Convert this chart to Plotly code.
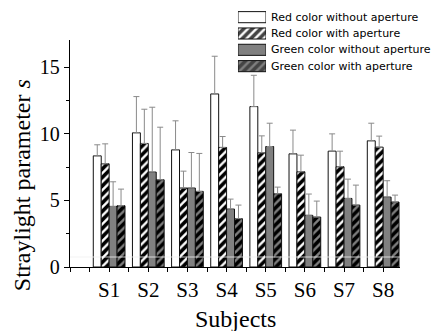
import plotly.graph_objects as go

subjects = ["S1", "S2", "S3", "S4", "S5", "S6", "S7", "S8"]
positions = [1, 2, 3, 4, 5, 6, 7, 8]

# mean straylight parameter s per subject
red_no_ap = [8.35, 10.08, 8.80, 13.00, 12.05, 8.50, 8.70, 9.48]
red_ap = [7.75, 9.28, 5.93, 8.98, 8.58, 7.15, 7.53, 9.00]
green_no_ap = [4.55, 7.13, 5.93, 4.35, 9.05, 3.88, 5.15, 5.25]
green_ap = [4.60, 6.55, 5.68, 3.63, 5.50, 3.75, 4.65, 4.88]

# upper end of the error bar (mean + SD)
red_no_ap_top = [9.18, 12.80, 10.98, 15.83, 14.40, 10.28, 10.00, 10.80]
red_ap_top = [9.25, 11.85, 7.20, 9.80, 9.85, 8.40, 8.70, 9.83]
green_no_ap_top = [6.40, 12.00, 8.60, 5.10, 10.80, 5.48, 6.60, 6.48]
green_ap_top = [5.85, 10.50, 8.53, 4.65, 6.00, 4.95, 6.15, 5.40]

series_names = ["Red color without aperture", "Red color with aperture",
                "Green color without aperture", "Green color with aperture"]
series_fill = ["white", "white", "#808080", "#808080"]
series_hatch = ["", "/", "", "/"]

means = [red_no_ap, red_ap, green_no_ap, green_ap]
tops = [red_no_ap_top, red_ap_top, green_no_ap_top, green_ap_top]

HATCH = dict(fgcolor="black", fgopacity=1, size=6, solidity=0.6)
OUTLINE = dict(color="#111111", width=1)

fig = go.Figure()
for name, vals, top, color, shape in zip(series_names, means, tops, series_fill, series_hatch):
    fig.add_trace(go.Bar(
        name=name, x=positions, y=vals, showlegend=False,
        marker=dict(color=color, line=OUTLINE,
                    pattern=dict(shape=shape, bgcolor=color, **HATCH)),
        error_y=dict(type="data", symmetric=False,
                     array=[t - v for t, v in zip(top, vals)],
                     color="#8a8a8a", thickness=1, width=3),
        xaxis="x", yaxis="y",
    ))

# key: one wide swatch per series on a small helper axis pair, labels beside it
key_rows = list(range(len(series_names)))
fig.add_trace(go.Bar(
    orientation="h", y=key_rows, x=[1] * len(key_rows), width=0.68,
    marker=dict(color=series_fill, line=OUTLINE,
                pattern=dict(shape=series_hatch, bgcolor=series_fill, **HATCH)),
    xaxis="x2", yaxis="y2", showlegend=False, hoverinfo="skip",
))

serif = "Liberation Serif, Times New Roman, serif"
sans = "DejaVu Sans, sans-serif"

annotations = [
    dict(text="Straylight parameter <i>s</i>", xref="paper", yref="paper",
         x=-0.145, y=0.313, xanchor="center", yanchor="middle", textangle=-90,
         showarrow=False, font=dict(family=serif, size=24, color="black")),
    dict(text="Subjects", xref="paper", yref="paper",
         x=0.5, y=-0.143, xanchor="center", yanchor="top",
         showarrow=False, font=dict(family=serif, size=24, color="black")),
]
for row, name in zip(key_rows, series_names):
    annotations.append(dict(text=name, xref="paper", yref="y2", x=0.604, y=row,
                            xanchor="left", yanchor="middle", showarrow=False,
                            font=dict(family=sans, size=11, color="black")))

fig.update_layout(
    width=435, height=331,
    margin=dict(l=70, r=35, t=5, b=64),
    paper_bgcolor="white", plot_bgcolor="rgba(0,0,0,0)",
    barmode="group", bargap=0.19, bargroupgap=0,
    showlegend=False,
    xaxis=dict(range=[0, 8.43], tickmode="array", tickvals=positions, ticktext=subjects,
               anchor="y", showline=True, linecolor="black", linewidth=1.3,
               ticks="outside", ticklen=4, tickcolor="black",
               minor=dict(tick0=0, dtick=0.5, ticks="outside", ticklen=4, tickcolor="black"),
               tickfont=dict(family=serif, size=21, color="black"),
               showgrid=False, zeroline=False),
    yaxis=dict(domain=[0, 0.8664], range=[0, 17.05], tickvals=[0, 5, 10, 15],
               anchor="x", showline=True, linecolor="black", linewidth=1.3,
               ticks="outside", ticklen=5, tickcolor="black",
               minor=dict(tick0=0, dtick=2.5, ticks="outside", ticklen=3, tickcolor="black"),
               tickfont=dict(family=serif, size=20, color="black"),
               showgrid=False, zeroline=False),
    xaxis2=dict(domain=[0.509, 0.594], range=[0, 1], anchor="y2", visible=False,
                fixedrange=True),
    yaxis2=dict(domain=[0.7355, 0.9847], range=[3.5, -0.5], anchor="x2", visible=False,
                fixedrange=True),
    annotations=annotations,
    shapes=[
        dict(type="line", xref="paper", yref="y", x0=0.0, x1=1.0, y0=0.75, y1=0.75,
             line=dict(color="rgba(240,240,240,0.8)", width=1), layer="above"),
    ],
)

fig.write_html("out.html")
